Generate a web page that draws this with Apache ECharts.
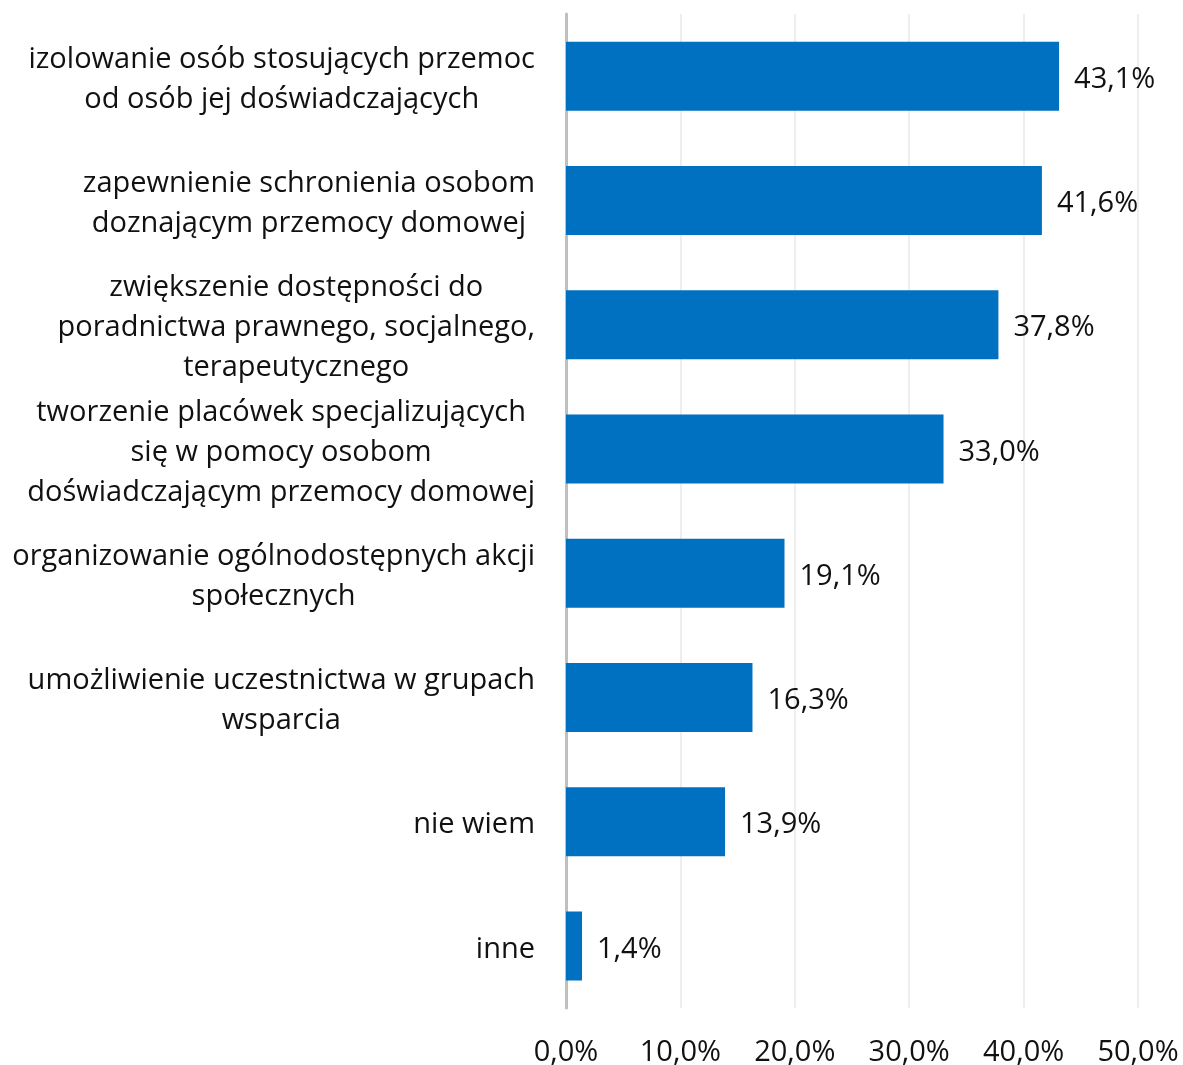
<!DOCTYPE html>
<html><head><meta charset="utf-8">
<script src="https://cdn.jsdelivr.net/npm/echarts@6/dist/echarts.min.js"></script>
<style>html,body{margin:0;padding:0;background:#fff}#c{width:1183px;height:1065px}</style>
</head><body><div id="c"></div>
<script>
const categories = [
  "izolowanie osób stosujących przemoc\nod osób jej doświadczających",
  "zapewnienie schronienia osobom\ndoznającym przemocy domowej",
  "zwiększenie dostępności do\nporadnictwa prawnego, socjalnego,\nterapeutycznego",
  "tworzenie placówek specjalizujących\nsię w pomocy osobom\ndoświadczającym przemocy domowej",
  "organizowanie ogólnodostępnych akcji\nspołecznych",
  "umożliwienie uczestnictwa w grupach\nwsparcia",
  "nie wiem",
  "inne"
];
const values = [43.1, 41.6, 37.8, 33.0, 19.1, 16.3, 13.9, 1.4];
const tickValues = [0, 10, 20, 30, 40, 50];

const FONT = "'Open Sans', 'Noto Sans', sans-serif";
const fmtPct = v => v.toFixed(1).replace('.', ',') + '%';

const chart = echarts.init(document.getElementById('c'), null, {renderer: 'canvas'});
chart.setOption({
  animation: false,
  backgroundColor: '#ffffff',
  grid: {left: 566, right: 45, top: 14, bottom: 57, containLabel: false, outerBoundsMode: 'none'},
  xAxis: {
    type: 'value', min: tickValues[0], max: tickValues[tickValues.length - 1], interval: 10,
    axisLine: {show: false}, axisTick: {show: false},
    splitLine: {show: true, lineStyle: {color: '#e9e9e9', width: 1.5}},
    axisLabel: {formatter: v => fmtPct(v), color: '#111111', fontSize: 29, fontFamily: FONT, margin: 30}
  },
  yAxis: {
    type: 'category', inverse: true, data: categories,
    axisLine: {show: true, lineStyle: {color: '#bfbfbf', width: 3}},
    axisTick: {show: false},
    axisLabel: {
      margin: 31,
      align: 'right',
      padding: [7, 0, 0, 0],
      formatter: v => v.split('\n').map(l => '{c|' + l + '}').join('\n'),
      rich: {c: {align: 'center', fontSize: 29, fontFamily: FONT, color: '#111111', lineHeight: 40}}
    }
  },
  series: [{
    type: 'bar', data: values, barWidth: 69,
    itemStyle: {color: '#0070c0'},
    label: {show: true, position: 'right', distance: 15, offset: [0, 3.5], formatter: p => fmtPct(p.value),
      color: '#111111', fontSize: 29, fontFamily: FONT}
  }]
});
</script></body></html>
